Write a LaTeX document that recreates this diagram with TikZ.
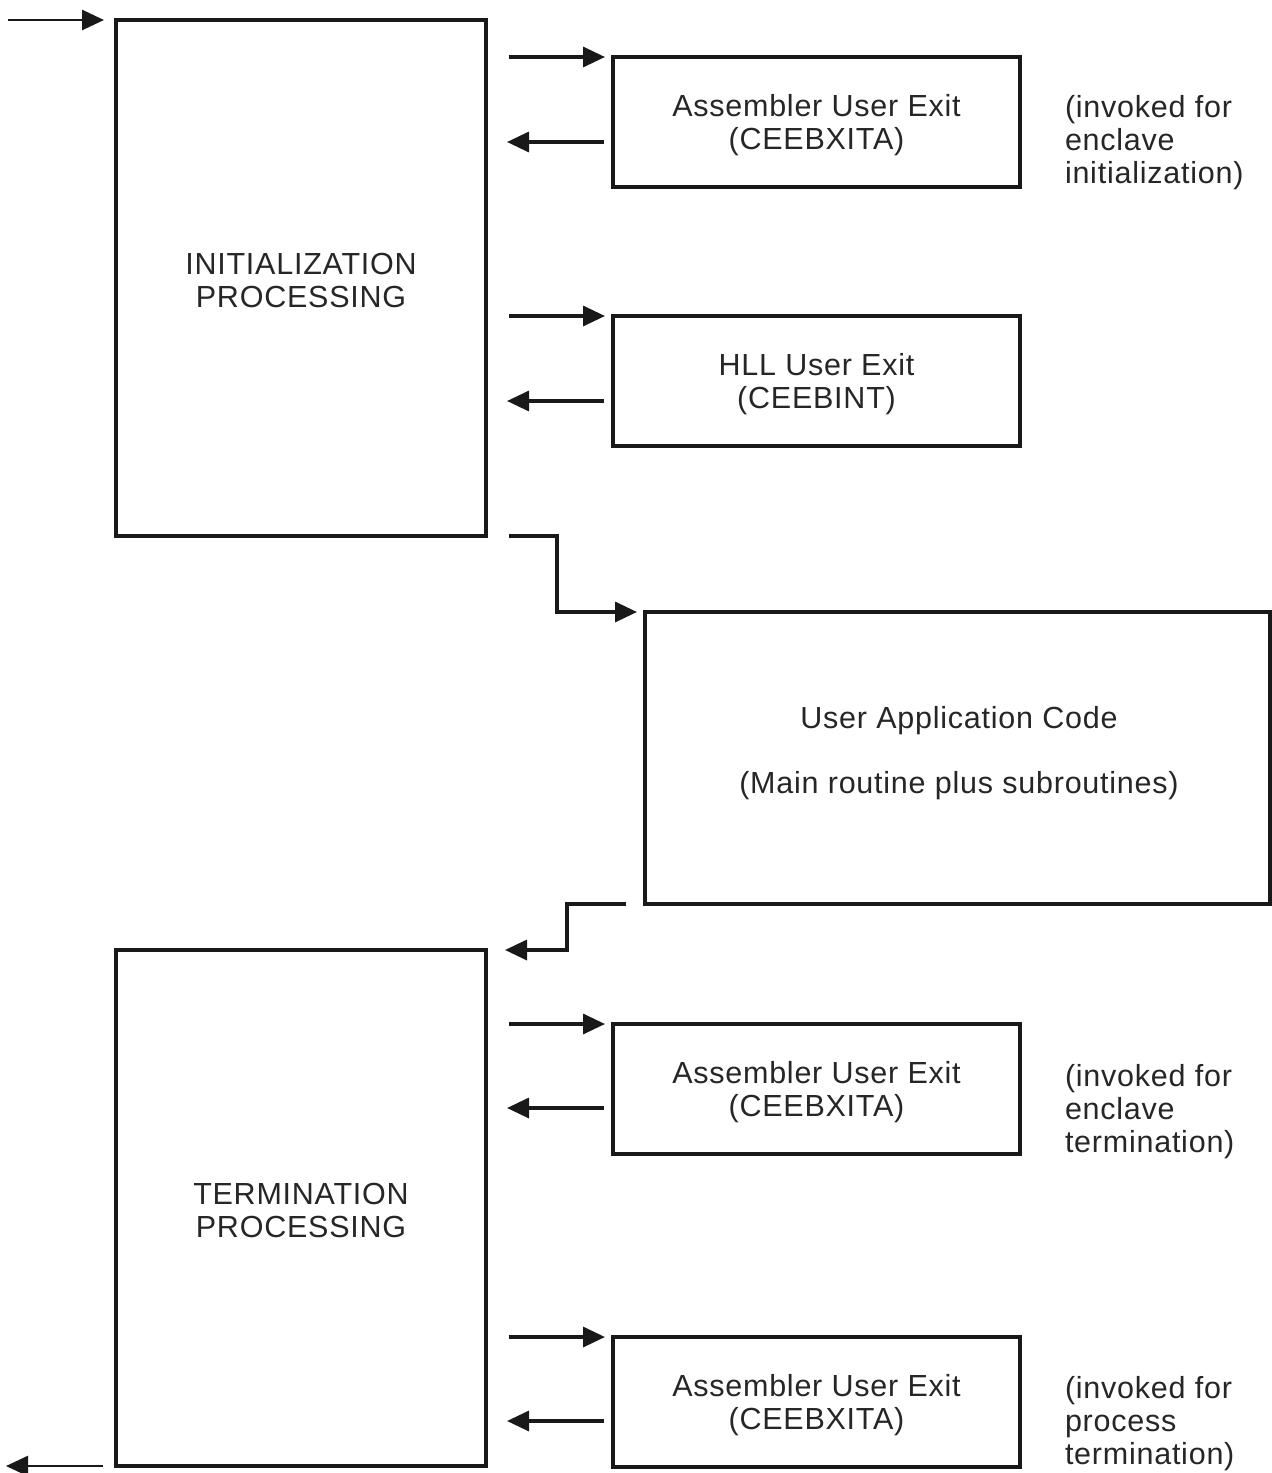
\documentclass[tikz,border=0pt]{standalone}
\usepackage{fontspec}
\setmainfont{Liberation Sans}
\newfontfamily\lblfont[LetterSpace=2.5]{Liberation Sans}
\usetikzlibrary{arrows.meta}
\begin{document}
\begin{tikzpicture}[x=1pt,y=-1pt,
  every node/.style={inner sep=0pt, outer sep=0pt},
  txt/.style={font={\lblfont\fontsize{30.5}{33}\selectfont}, align=center, text=black!85},
  note/.style={font={\lblfont\fontsize{30.5}{33}\selectfont}, align=left, anchor=west, text=black!85},
  bigbox/.style={draw=black!90, line width=3.2pt, anchor=north west, minimum width=370pt, minimum height=516pt},
  exitbox/.style={draw=black!90, line width=3.2pt, anchor=north west, minimum width=407pt, minimum height=130pt},
  appbox/.style={draw=black!90, line width=3.2pt, anchor=north west, minimum width=625pt, minimum height=292pt},
  arr/.style={draw=black!90, line width=3.4pt, -{Triangle[length=22pt,width=20pt]}},
  thinarr/.style={draw=black!90, line width=2.6pt, -{Triangle[length=22pt,width=20pt]}}
]
\useasboundingbox (0,0) rectangle (1272,1473);

% big boxes
\node[bigbox] (init) at (116,20) {};
\node[txt] (initlbl) at ([yshift=-2pt]init.center) {INITIALIZATION\\PROCESSING};
\node[bigbox] (term) at (116,950) {};
\node[txt] (termlbl) at ([yshift=-2pt]term.center) {TERMINATION\\PROCESSING};

% exit boxes
\node[exitbox] (ex1) at (613,57) {};
\node[txt] (ex1lbl) at ([yshift=-3pt]ex1.center) {Assembler User Exit\\(CEEBXITA)};
\node[exitbox] (ex2) at (613,316) {};
\node[txt] (ex2lbl) at ([yshift=-3pt]ex2.center) {HLL User Exit\\(CEEBINT)};
\node[exitbox] (ex3) at (613,1024) {};
\node[txt] (ex3lbl) at ([yshift=-3pt]ex3.center) {Assembler User Exit\\(CEEBXITA)};
\node[exitbox] (ex4) at (613,1337) {};
\node[txt] (ex4lbl) at ([yshift=-3pt]ex4.center) {Assembler User Exit\\(CEEBXITA)};

% application box
\node[appbox] (app) at (645,612) {};
\node[txt] (applbl) at (959,753) {User Application Code\\[32pt](Main routine plus subroutines)};

% notes
\node[note] (n1) at (1065,143) {(invoked for\\enclave\\initialization)};
\node[note] (n3) at (1065,1112) {(invoked for\\enclave\\termination)};
\node[note] (n4) at (1065,1424) {(invoked for\\process\\termination)};

% connector coordinates
\coordinate (inS) at (8,20);
\coordinate (inE) at (104,20);
\coordinate (outS) at (103,1466);
\coordinate (outE) at (6,1466);

\foreach \n/\y/\yy in {1/57/142, 2/316/401, 3/1024/1108, 4/1337/1421}{
  \coordinate (c\n a) at (509,\y);
  \coordinate (c\n b) at (605,\y);
  \coordinate (c\n c) at (604,\yy);
  \coordinate (c\n d) at (507,\yy);
}

\coordinate (d1) at (509,536);
\coordinate (d2) at (557,536);
\coordinate (d3) at (557,612);
\coordinate (d4) at (637,612);

\coordinate (e1) at (626,904);
\coordinate (e2) at (567,904);
\coordinate (e3) at (567,950);
\coordinate (e4) at (505,950);

\draw[thinarr] (inS) -- (inE);
\draw[thinarr] (outS) -- (outE);

\foreach \n in {1,2,3,4}{
  \draw[arr] (c\n a) -- (c\n b);
  \draw[arr] (c\n c) -- (c\n d);
}

\draw[arr] (d1) -- (d2) -- (d3) -- (d4);
\draw[arr] (e1) -- (e2) -- (e3) -- (e4);
\end{tikzpicture}
\end{document}
